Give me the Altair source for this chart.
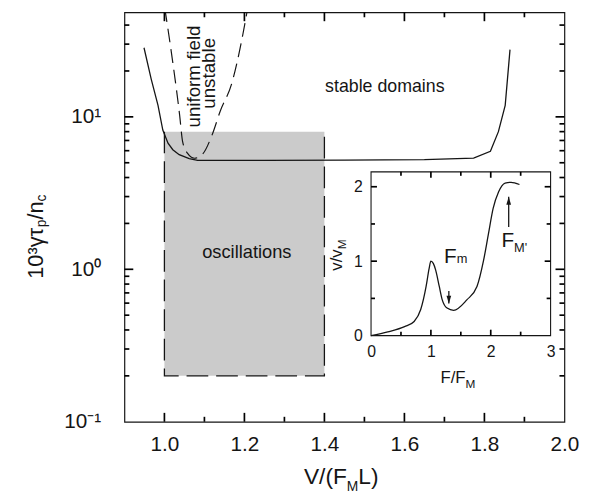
import altair as alt
import pandas as pd

# ---------------- data ----------------
# stable-domain boundary (solid line)
STAB_V = [0.949, 0.967, 0.984, 0.996, 1.009, 1.021, 1.037, 1.062, 1.083, 1.25, 1.45, 1.65,
          1.773, 1.815, 1.835, 1.852, 1.864]
STAB_Y = [28.4, 17.7, 11.9, 8.2, 6.72, 6.09, 5.65, 5.32, 5.19, 5.19, 5.2, 5.25,
          5.37, 5.94, 8.0, 11.9, 27.6]
# uniform field unstable boundary (dashed)
UNST_V = [1.001, 1.021, 1.038, 1.0455, 1.058, 1.075, 1.095, 1.1195, 1.139, 1.169, 1.1935, 1.208]
UNST_Y = [51.5, 22.7, 10.3, 6.89, 5.76, 5.35, 5.68, 7.65, 10.8, 16.8, 32.0, 51.5]
# oscillation region
OSC_V = [1.0, 1.4]
OSC_Y = [0.2, 8.0]
# main axes ticks
X_MAJOR = [1.0, 1.2, 1.4, 1.6, 1.8, 2.0]
X_MINOR = [1.1, 1.3, 1.5, 1.7, 1.9]
Y_MAJOR = [0.1, 1, 10]
Y_MINOR = [0.2, 0.3, 0.4, 0.5, 0.6, 0.7, 0.8, 0.9, 2, 3, 4, 5, 6, 7, 8, 9, 20, 30, 40]

# inset: v/vM versus F/FM
IN_F = [0, 0.28, 0.56, 0.72, 0.83, 0.92, 0.97, 1.0, 1.04, 1.08, 1.14, 1.19, 1.27, 1.38,
        1.6, 1.77, 1.88, 1.96, 2.04, 2.13, 2.24, 2.34, 2.48]
IN_V = [0, 0.05, 0.12, 0.19, 0.35, 0.66, 0.9, 1.0, 0.97, 0.88, 0.66, 0.48, 0.37, 0.34,
        0.48, 0.66, 1.01, 1.36, 1.71, 1.93, 2.05, 2.06, 2.03]
IN_X_MAJOR = [0, 1, 2, 3]
IN_X_MINOR = [0.5, 1.5, 2.5]
IN_Y_MAJOR = [0, 1, 2]
IN_Y_MINOR = [0.5, 1.5]
ARROW_F = [1.30, 2.30]
ARROW_FROM = [0.60, 1.46]
ARROW_TO = [0.43, 1.865]

# ---------------- layout ----------------
W, H = 446, 415
X_DOM = [0.9, 2.0]
Y_DOM = [0.1, 48.5]
IN_X_DOM = [0, 3]
IN_Y_DOM = [0, 2.2]
IN_X_RANGE = [250, 432]
IN_Y_RANGE = [327.7, 161.7]
FONT = "Liberation Sans"
INK = "#151515"
TICK = "#000000"

XS = alt.Scale(domain=X_DOM, nice=False, zero=False)
YS = alt.Scale(type="log", domain=Y_DOM, nice=False)
XI = alt.Scale(domain=IN_X_DOM, range=IN_X_RANGE, nice=False, zero=False)
YI = alt.Scale(domain=IN_Y_DOM, range=IN_Y_RANGE, nice=False, zero=False)


def label_axis(orient, values, offset, pad, size, **kw):
    return alt.Axis(orient=orient, values=values, ticks=False, offset=offset,
                    domain=False, grid=False, title=None, labels=True,
                    labelFontSize=size, labelPadding=pad, labelFont=FONT,
                    labelColor=INK, labelFlush=False, labelOverlap=False, **kw)


def xticks(values, scale, y0, y1):
    df = pd.DataFrame({"t": values})
    return alt.Chart(df).mark_rule(color=TICK, strokeWidth=1.7).encode(
        x=alt.X("t:Q", scale=scale, axis=None), y=alt.value(y0), y2=alt.value(y1))


def yticks(values, scale, x0, x1):
    df = pd.DataFrame({"t": values})
    return alt.Chart(df).mark_rule(color=TICK, strokeWidth=1.7).encode(
        y=alt.Y("t:Q", scale=scale, axis=None), x=alt.value(x0), x2=alt.value(x1))


ONE = pd.DataFrame({"k": [0]})


def piece(text, x, y, size, angle=0):
    return alt.Chart(ONE).mark_text(align="left", baseline="alphabetic", fontSize=size,
                                    angle=angle, font=FONT, color=INK).encode(
        x=alt.value(x), y=alt.value(y), text=alt.value(text))


def note(text, v, y, size, xs, ys, angle=0, align="center", baseline="middle"):
    df = pd.DataFrame({"v": [v], "y": [y]})
    return alt.Chart(df).mark_text(text=text, fontSize=size, angle=angle, font=FONT,
                                   color=INK, align=align, baseline=baseline).encode(
        x=alt.X("v:Q", scale=xs, axis=None), y=alt.Y("y:Q", scale=ys, axis=None))


# ---------------- main panel ----------------
osc_df = pd.DataFrame({"v0": [OSC_V[0]], "v1": [OSC_V[1]], "y0": [OSC_Y[0]], "y1": [OSC_Y[1]]})
shade = alt.Chart(osc_df).mark_rect(fill="#cbcbcb").encode(
    x=alt.X("v0:Q", scale=XS, axis=label_axis("bottom", X_MAJOR, 0, 12, 21, format=".1f")),
    x2="v1:Q",
    y=alt.Y("y0:Q", scale=YS, axis=label_axis(
        "left", Y_MAJOR, 0, 24, 21,
        labelExpr="datum.value > 5 ? '10¹' : (datum.value > 0.5 ? '10⁰' : '10⁻¹')")),
    y2="y1:Q",
)

border_df = pd.DataFrame({
    "v": [OSC_V[0], OSC_V[0], OSC_V[1], OSC_V[1]],
    "y": [OSC_Y[1], OSC_Y[0], OSC_Y[0], OSC_Y[1]],
    "i": [0, 1, 2, 3],
})
border = alt.Chart(border_df).mark_line(color=INK, strokeWidth=1.3, strokeDash=[22, 8]).encode(
    x=alt.X("v:Q", scale=XS, axis=None),
    y=alt.Y("y:Q", scale=YS, axis=None),
    order="i:Q",
)

stab_df = pd.DataFrame({"v": STAB_V, "y": STAB_Y, "i": range(len(STAB_V))})
stab = alt.Chart(stab_df).mark_line(color=INK, strokeWidth=1.3).encode(
    x=alt.X("v:Q", scale=XS, axis=None),
    y=alt.Y("y:Q", scale=YS, axis=None),
    order="i:Q",
)

unst_df = pd.DataFrame({"v": UNST_V, "y": UNST_Y, "i": range(len(UNST_V))})
unst = alt.Chart(unst_df).mark_line(color=INK, strokeWidth=1.2, strokeDash=[14, 7],
                                    interpolate="monotone", clip=True).encode(
    x=alt.X("v:Q", scale=XS, axis=None),
    y=alt.Y("y:Q", scale=YS, axis=None),
    order="i:Q",
)

MJ, MN = 9, 5
main_ticks = [
    xticks(X_MAJOR[:-1], XS, H - MJ, H), xticks(X_MINOR, XS, H - MN, H),
    xticks(X_MAJOR[:-1], XS, 0, MJ), xticks(X_MINOR, XS, 0, MN),
    yticks(Y_MAJOR[1:], YS, 0, MJ), yticks(Y_MINOR, YS, 0, MN),
    yticks(Y_MAJOR[1:], YS, W - MJ, W), yticks(Y_MINOR, YS, W - MN, W),
]

main_notes = [
    note("stable domains", 1.551, 15.6, 18, XS, YS),
    note("oscillations", 1.206, 1.30, 18.5, XS, YS),
    note("uniform field", 1.075, 18.4, 19, XS, YS, angle=270),
    note("unstable", 1.112, 19.3, 19, XS, YS, angle=270),
]

titles = [
    # x title V/(F_M L)
    piece("V/(F", 182, 478, 23),
    piece("M", 225.4, 485, 14),
    piece("L)", 237.1, 478, 23),
    # y title 10^3 γ τ_p / n_c
    piece("10³γτ", -83, 270, 22, angle=270),
    piece("p", -79, 217.8, 14, angle=270),
    piece("/n", -83, 210, 22, angle=270),
    piece("c", -79, 191.7, 14, angle=270),
    # inset titles
    piece("F/F", 320.3, 375.5, 17),
    piece("M", 345.8, 381, 12),
    piece("v/v", 221, 261.9, 17, angle=270),
    piece("M", 224.5, 240.2, 12, angle=270),
]

main = alt.layer(shade, border, stab, unst, *main_ticks, *main_notes, *titles).resolve_axis(
    x="independent", y="independent")

# ---------------- inset ----------------
frame_df = pd.DataFrame({"f0": [IN_X_DOM[0]], "f1": [IN_X_DOM[1]],
                         "v0": [IN_Y_DOM[0]], "v1": [IN_Y_DOM[1]]})
frame = alt.Chart(frame_df).mark_rect(fill="white", stroke=INK, strokeWidth=1.1).encode(
    x=alt.X("f0:Q", scale=XI, axis=label_axis("bottom", IN_X_MAJOR, IN_Y_RANGE[0] - H, 8, 16,
                                               format="d")),
    x2="f1:Q",
    y=alt.Y("v0:Q", scale=YI, axis=label_axis("left", IN_Y_MAJOR, -IN_X_RANGE[0], 9, 16,
                                              format="d")),
    y2="v1:Q",
)

curve_df = pd.DataFrame({"f": IN_F, "v": IN_V, "i": range(len(IN_F))})
curve = alt.Chart(curve_df).mark_line(color=INK, strokeWidth=1.3, interpolate="monotone").encode(
    x=alt.X("f:Q", scale=XI, axis=None),
    y=alt.Y("v:Q", scale=YI, axis=None),
    order="i:Q",
)

ib, it = IN_Y_RANGE
il, ir = IN_X_RANGE
IJ, IN_ = 6, 4
inset_ticks = [
    xticks(IN_X_MAJOR[1:3], XI, ib - IJ, ib), xticks(IN_X_MINOR, XI, ib - IN_, ib),
    xticks(IN_X_MAJOR[1:3], XI, it, it + IJ), xticks(IN_X_MINOR, XI, it, it + IN_),
    yticks(IN_Y_MAJOR[1:], YI, il, il + IJ), yticks(IN_Y_MINOR, YI, il, il + IN_),
    yticks(IN_Y_MAJOR[1:], YI, ir - IJ, ir), yticks(IN_Y_MINOR, YI, ir - IN_, ir),
]

arrow_df = pd.DataFrame({"f": ARROW_F, "a": ARROW_FROM, "b": ARROW_TO})
arrows = alt.Chart(arrow_df).mark_rule(color=INK, strokeWidth=1.3).encode(
    x=alt.X("f:Q", scale=XI, axis=None),
    y=alt.Y("a:Q", scale=YI, axis=None),
    y2="b:Q",
)

head_dn_df = pd.DataFrame({"f": [ARROW_F[0]], "v": [ARROW_TO[0]]})
head_dn = alt.Chart(head_dn_df).mark_point(shape="M-0.6,-1L0.6,-1L0,1Z", size=64, filled=True,
                                           color=INK, opacity=1, yOffset=-4).encode(
    x=alt.X("f:Q", scale=XI, axis=None),
    y=alt.Y("v:Q", scale=YI, axis=None),
)

head_up_df = pd.DataFrame({"f": [ARROW_F[1]], "v": [ARROW_TO[1]]})
head_up = alt.Chart(head_up_df).mark_point(shape="M-0.6,1L0.6,1L0,-1Z", size=64, filled=True,
                                           color=INK, opacity=1, yOffset=4).encode(
    x=alt.X("f:Q", scale=XI, axis=None),
    y=alt.Y("v:Q", scale=YI, axis=None),
)

inset_notes = [
    note("F", 1.219, 0.973, 21, XI, YI, align="left", baseline="alphabetic"),
    note("m", 1.43, 0.973, 13, XI, YI, align="left", baseline="alphabetic"),
    note("F", 2.18, 1.185, 21, XI, YI, align="left", baseline="alphabetic"),
    note("M'", 2.39, 1.123, 13, XI, YI, align="left", baseline="alphabetic"),
]

inset = alt.layer(frame, curve, *inset_ticks, arrows, head_dn, head_up, *inset_notes).resolve_axis(
    x="independent", y="independent")

chart = alt.layer(main, inset).resolve_scale(
    x="independent", y="independent"
).properties(
    width=W, height=H,
    autosize=alt.AutoSizeParams(type="none"),
    padding={"left": 118, "top": 1, "right": 30, "bottom": 80},
).configure_view(
    stroke=INK, strokeWidth=1.2
).configure_axis(
    grid=False
)

chart.save("out.html", embed_options={"renderer": "svg", "actions": False})
